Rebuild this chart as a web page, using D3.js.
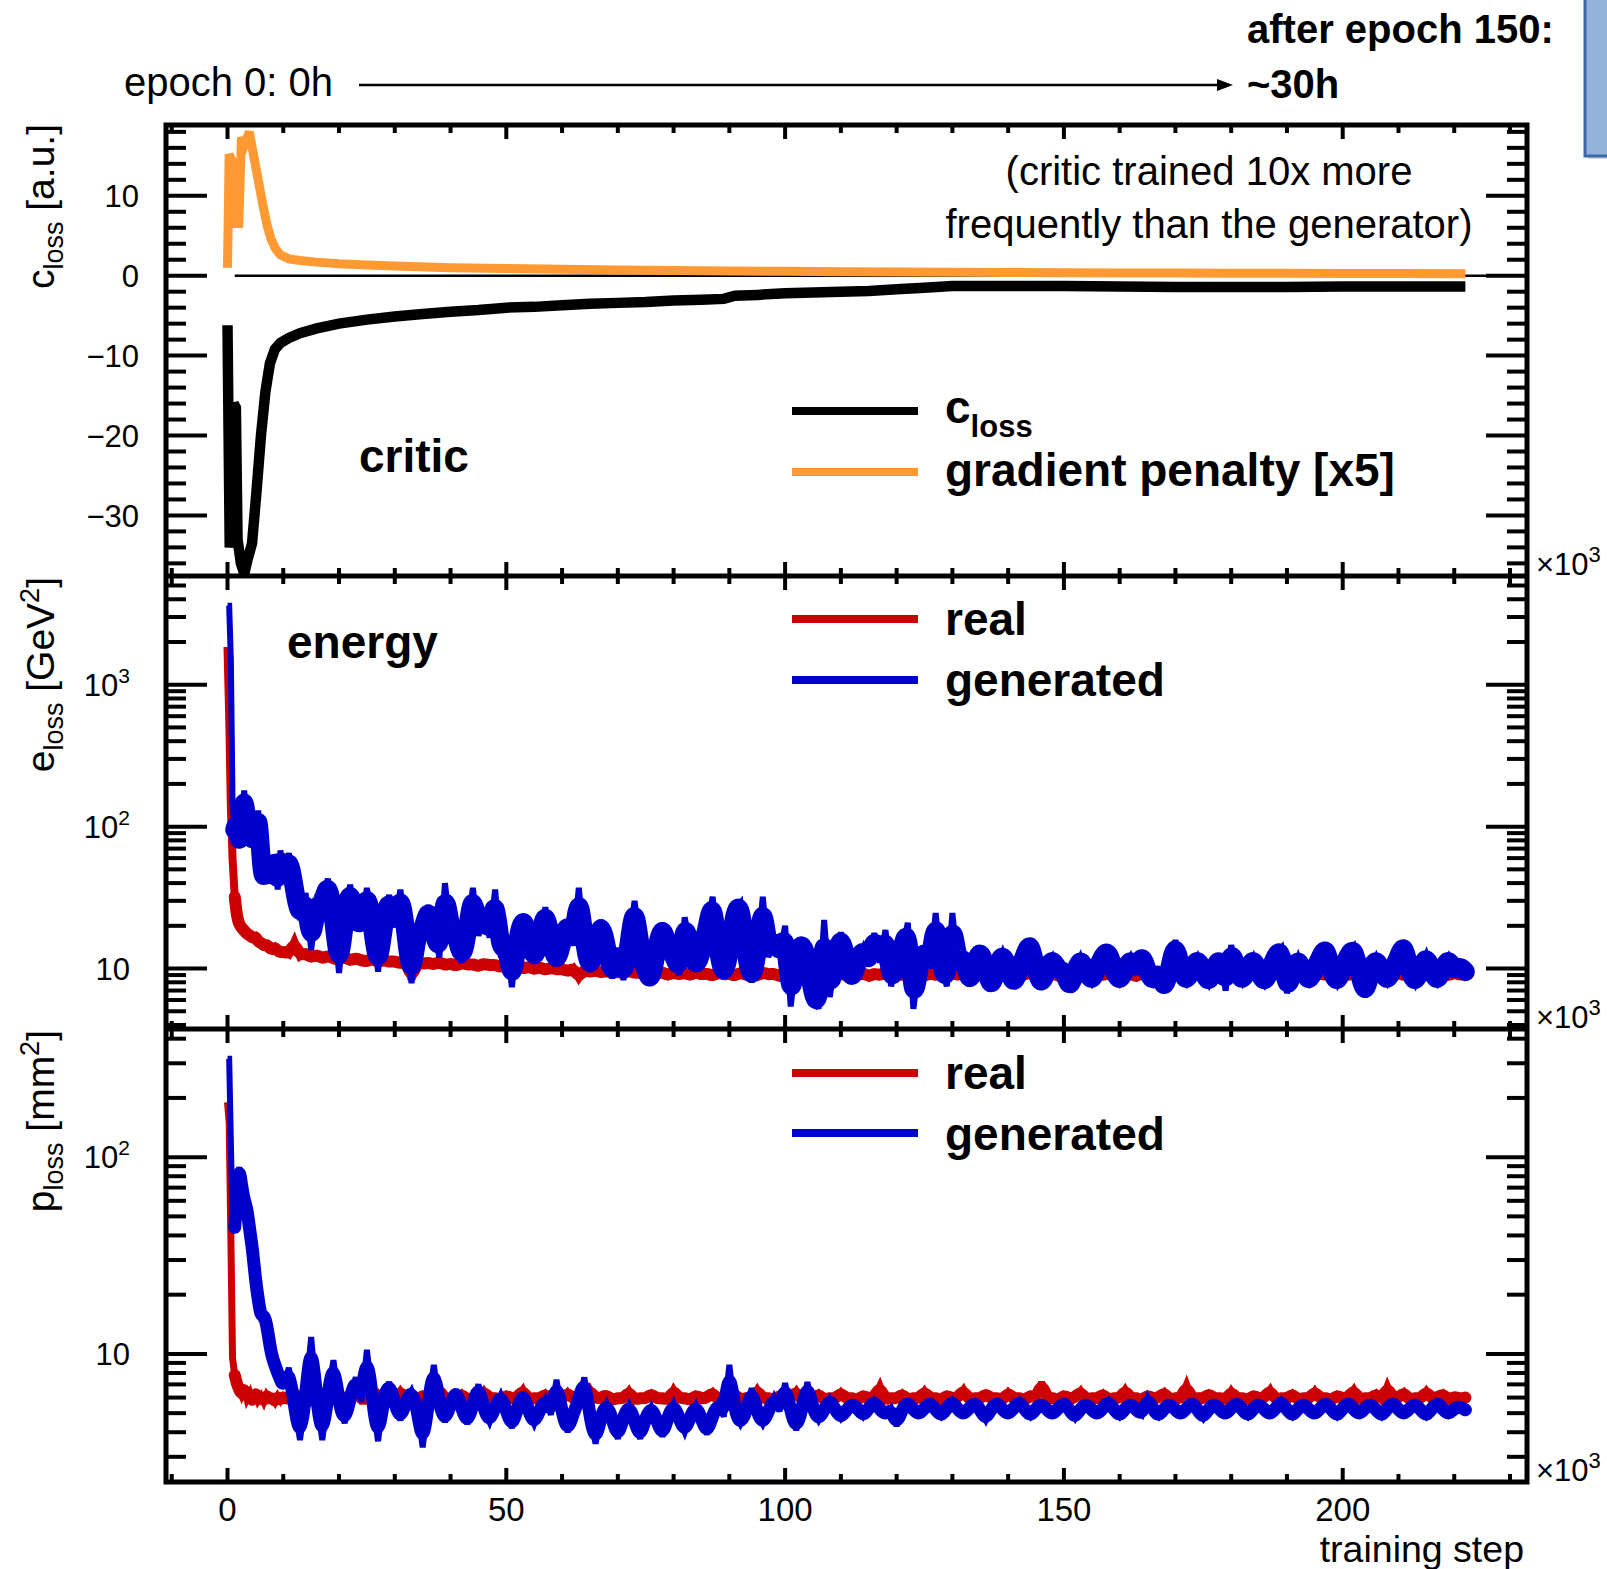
<!DOCTYPE html>
<html>
<head>
<meta charset="utf-8">
<script src="https://cdn.jsdelivr.net/npm/d3@7"></script>
<style>
  body { margin: 0; background: #fff; }
</style>
</head>
<body>
<script>
// ---- data (training step in units of 10^3) ----
const critSteps = [0, 0.4, 0.8, 1.1, 1.5, 1.8, 2.4, 3.0, 3.6, 4.4,
  5.2, 6.0, 6.8, 7.6, 8.5, 9.5, 11, 13, 16, 20,
  25, 30, 35, 40, 45, 50, 55, 60, 65, 70,
  75, 80, 85, 89, 91, 95, 100, 105, 110, 115,
  120, 125, 130, 140, 150, 160, 170, 180, 190, 200,
  210, 222];
const critLoss = [-6.2, -34, -31, -16, -16.5, -33, -36, -37.3, -35.5, -33.5,
  -27, -20, -14.5, -11, -9.2, -8.4, -7.8, -7.2, -6.6, -6.0,
  -5.5, -5.1, -4.8, -4.5, -4.3, -4.0, -3.9, -3.7, -3.5, -3.4,
  -3.3, -3.1, -3.0, -2.9, -2.5, -2.4, -2.2, -2.1, -2.0, -1.9,
  -1.7, -1.5, -1.3, -1.3, -1.3, -1.35, -1.4, -1.4, -1.4, -1.35,
  -1.35, -1.35];

const gpSteps = [0, 0.3, 0.9, 1.2, 1.6, 2.0, 2.5, 3.1, 3.9, 4.7,
  5.5, 6.3, 7.1, 7.8, 8.6, 9.5, 11, 13, 16, 20,
  25, 30, 40, 50, 60, 70, 80, 90, 100, 110,
  120, 130, 140, 150, 160, 170, 180, 190, 200, 210,
  222];
const gradPenalty = [1.0, 15.2, 14.2, 6.0, 11.5, 6.0, 17.3, 16.5, 18.0, 15.0,
  12.0, 9.0, 6.3, 4.6, 3.4, 2.6, 2.1, 1.9, 1.7, 1.5,
  1.35, 1.2, 1.0, 0.9, 0.8, 0.72, 0.66, 0.6, 0.55, 0.5,
  0.46, 0.43, 0.4, 0.37, 0.35, 0.33, 0.31, 0.3, 0.28, 0.27,
  0.26];

const noisySteps = [0, 0.3, 0.6, 0.9, 1.3, 1.7, 2.1, 2.5, 3, 3.5, 4, 4.5, 5, 5.5, 6, 6.5, 7, 7.5, 8, 8.5, 9, 9.5,
  10, 11, 12, 13, 14, 15, 16, 17, 18, 19,
  20, 21, 22, 23, 24, 25, 26, 27, 28, 29,
  30, 31, 32, 33, 34, 35, 36, 37, 38, 39,
  40, 41, 42, 43, 44, 45, 46, 47, 48, 49,
  50, 51, 52, 53, 54, 55, 56, 57, 58, 59,
  60, 61, 62, 63, 64, 65, 66, 67, 68, 69,
  70, 71, 72, 73, 74, 75, 76, 77, 78, 79,
  80, 81, 82, 83, 84, 85, 86, 87, 88, 89,
  90, 91, 92, 93, 94, 95, 96, 97, 98, 99,
  100, 101, 102, 103, 104, 105, 106, 107, 108, 109,
  110, 111, 112, 113, 114, 115, 116, 117, 118, 119,
  120, 121, 122, 123, 124, 125, 126, 127, 128, 129,
  130, 131, 132, 133, 134, 135, 136, 137, 138, 139,
  140, 141, 142, 143, 144, 145, 146, 147, 148, 149,
  150, 151, 152, 153, 154, 155, 156, 157, 158, 159,
  160, 161, 162, 163, 164, 165, 166, 167, 168, 169,
  170, 171, 172, 173, 174, 175, 176, 177, 178, 179,
  180, 181, 182, 183, 184, 185, 186, 187, 188, 189,
  190, 191, 192, 193, 194, 195, 196, 197, 198, 199,
  200, 201, 202, 203, 204, 205, 206, 207, 208, 209,
  210, 211, 212, 213, 214, 215, 216, 217, 218, 219,
  220, 221, 222];

const energyReal = [1850, 600, 140, 60, 32, 23, 20.5, 19.5, 18.5, 17.5, 17.2, 16.4, 16.8, 15.5, 15.2, 14.5, 14.8, 14.0, 13.6, 14.1, 13.3, 13.0,
  13.2, 12.6, 15.5, 12.2, 12.9, 11.9, 12.6, 11.7, 12.4, 11.8,
  11.5, 12.2, 11.3, 11.9, 11.4, 11.2, 11.8, 11.0, 11.6, 11.1,
  11.3, 10.8, 11.5, 8.4, 11.2, 10.7, 11.1, 10.6, 11.2, 10.5,
  10.9, 10.4, 11.0, 10.6, 10.8, 10.3, 10.9, 10.5, 10.7, 10.2,
  10.6, 10.1, 10.5, 9.9, 10.4, 9.8, 10.3, 9.7, 10.2, 9.8,
  10.0, 9.5, 10.1, 8.6, 9.9, 9.4, 9.8, 9.3, 9.7, 9.2,
  9.6, 9.1, 9.8, 9.2, 9.5, 9.0, 9.6, 9.1, 9.5, 8.9,
  9.5, 9.0, 9.4, 8.9, 9.6, 9.0, 9.3, 8.8, 9.5, 9.0,
  9.3, 8.8, 9.5, 8.9, 9.4, 8.8, 9.5, 9.0, 9.3, 8.7,
  9.4, 8.9, 9.5, 8.8, 9.3, 8.9, 9.6, 8.7, 9.4, 8.9,
  9.3, 8.8, 9.5, 8.9, 9.4, 8.7, 9.3, 8.9, 9.5, 8.8,
  9.4, 8.9, 9.3, 8.8, 9.5, 8.7, 9.4, 8.9, 9.3, 8.8,
  9.4, 8.9, 9.5, 8.8, 9.3, 8.9, 9.4, 8.7, 9.5, 8.9,
  9.3, 8.8, 9.4, 8.9, 9.6, 8.8, 9.3, 8.9, 9.4, 8.7,
  9.3, 8.9, 9.5, 8.8, 9.4, 8.6, 9.3, 8.9, 9.4, 8.8,
  9.5, 8.9, 9.3, 8.7, 9.4, 8.9, 9.3, 8.8, 9.5, 8.9,
  9.4, 8.8, 9.3, 8.9, 9.5, 8.7, 9.4, 8.9, 9.3, 8.8,
  9.4, 8.9, 9.5, 8.8, 9.3, 8.9, 9.4, 8.7, 9.3, 8.9,
  9.5, 8.8, 9.4, 8.9, 9.3, 8.7, 9.4, 8.9, 9.5, 8.8,
  9.3, 8.9, 9.4, 8.8, 9.5, 8.2, 9.3, 8.9, 9.4, 8.8,
  9.4, 8.9, 9.3, 8.8, 9.5, 8.9, 9.4, 8.7, 9.3, 8.9,
  9.4, 9.0, 9.2];

const energyGen = [3600, 3600, 1500, 150, 95, 110, 72, 100, 180, 94, 88, 80, 85, 130, 58, 40, 58, 52, 48, 62, 36, 68,
  42, 65, 36, 22, 34, 13.5, 30, 27, 43, 24,
  9.3, 23, 39, 21, 20, 37, 20, 9.5, 21, 33,
  19.5, 36, 18, 7.9, 19, 17.5, 28, 18.5, 12, 40,
  17.5, 18.5, 11, 17.5, 37, 17, 25, 16.5, 36, 12,
  16.5, 7.4, 16, 24, 16.5, 11, 16, 27, 15.5, 10.5,
  15.5, 22, 14.5, 37, 15, 9.5, 14.5, 22, 14, 8.5,
  14, 8.3, 14.5, 30, 13.5, 9.5, 7.9, 14, 21, 13.5,
  13, 9, 23, 13.5, 10, 13, 19, 32, 13, 8.5,
  13, 26, 29, 12.5, 8, 12.5, 32, 12, 17, 12,
  20, 5.4, 12, 16, 11.5, 6.5, 5.2, 22, 6.3, 11.5,
  18, 11, 8, 11.5, 14, 10.5, 17.8, 11, 18.7, 7.5,
  11, 13.5, 21, 5.2, 10.5, 14, 10, 24.6, 10.5, 7.5,
  24.6, 10, 13, 7.5, 10.5, 14, 10, 7, 10.5, 13,
  10, 7.5, 10, 12.5, 15.9, 9.5, 7.5, 10, 12, 9.5,
  10, 7, 9.5, 12, 9.5, 8, 10, 12.5, 13.5, 9.5,
  8, 9.8, 12, 9.5, 13.1, 9.3, 8, 9.8, 6.8, 10,
  15.9, 9.5, 8, 10, 12, 9.4, 7.8, 10, 12.5, 7,
  14.6, 9.5, 8, 10, 12, 9.3, 7.8, 9.8, 12.5, 13.9,
  6.7, 9.6, 12, 9.3, 8, 10, 12, 14.6, 9.4, 7.8,
  10, 12.5, 14.2, 9.4, 6.3, 9.8, 12, 9.5, 8, 10,
  12, 15.4, 9.4, 7.8, 10, 12.5, 9.5, 8, 10, 12,
  9.5, 10.5, 9.5];

const posReal = [190, 150, 40, 9.5, 7.8, 7.0, 6.6, 6.2, 6.8, 5.9, 6.3, 5.6, 6.5, 5.8, 6.1, 5.7, 6.2, 5.9, 6.0, 5.7, 6.1, 5.8,
  6.1, 5.8, 6.4, 5.9, 6.0, 5.7, 6.5, 5.9, 6.0, 5.8,
  6.2, 5.9, 6.0, 6.6, 5.8, 6.0, 5.9, 6.3, 5.8, 6.0,
  5.9, 6.5, 5.9, 6.0, 5.8, 6.2, 5.9, 6.0, 6.7, 5.8,
  6.0, 5.9, 6.3, 5.8, 6.0, 5.9, 6.5, 5.9, 6.0, 5.8,
  6.2, 5.9, 6.0, 6.6, 5.8, 6.0, 5.9, 6.3, 5.8, 6.0,
  5.9, 6.4, 5.9, 6.0, 5.8, 6.6, 5.9, 6.0, 6.2, 5.8,
  6.0, 5.9, 6.5, 5.8, 6.0, 5.9, 6.3, 5.9, 6.0, 5.8,
  6.6, 5.9, 6.0, 5.8, 6.2, 5.9, 6.0, 6.4, 5.8, 6.0,
  5.9, 6.3, 5.8, 6.0, 5.9, 6.6, 5.9, 6.0, 5.8, 6.2,
  5.9, 6.0, 6.5, 5.8, 6.0, 5.9, 6.3, 5.8, 6.0, 5.9,
  6.4, 5.9, 6.0, 5.8, 6.2, 5.9, 6.0, 6.9, 5.8, 6.0,
  5.9, 6.3, 5.8, 6.0, 5.9, 6.5, 5.9, 6.0, 5.8, 6.2,
  5.9, 6.0, 6.6, 5.8, 6.0, 5.9, 6.3, 5.9, 6.0, 5.8,
  6.4, 5.9, 6.0, 5.8, 6.2, 5.9, 7.2, 5.9, 6.0, 5.8,
  6.2, 5.9, 6.0, 6.5, 5.8, 6.0, 5.9, 6.3, 5.8, 6.0,
  5.9, 6.6, 5.9, 6.0, 5.8, 6.2, 5.9, 6.0, 6.4, 5.8,
  6.0, 5.9, 7.0, 5.8, 6.0, 5.9, 6.3, 5.9, 6.0, 5.8,
  6.5, 5.9, 6.0, 5.8, 6.2, 5.9, 6.0, 6.6, 5.8, 6.0,
  5.9, 6.3, 5.8, 6.0, 5.9, 6.5, 5.9, 6.0, 5.8, 6.2,
  5.9, 6.0, 6.6, 5.8, 6.0, 5.9, 6.3, 5.8, 6.9, 5.9,
  6.0, 6.4, 5.8, 6.0, 5.9, 6.5, 5.9, 6.0, 6.3, 5.8,
  6.1, 5.9, 6.0];

const posGen = [316, 316, 120, 47, 44, 70, 89, 72, 60, 55, 42, 34, 24, 19, 15.4, 15.8, 14.3, 11.5, 9.6, 8.8, 8.0, 7.4,
  6.8, 8.5, 5.5, 3.65, 6.0, 12.2, 5.8, 3.65, 6.2, 9.3,
  5.6, 4.45, 6.0, 7.6, 5.7, 10.5, 5.8, 3.6, 6.0, 7.2,
  5.6, 4.6, 5.8, 6.5, 5.4, 3.35, 5.6, 8.8, 5.5, 4.5,
  5.6, 6.6, 5.3, 4.4, 5.5, 7.0, 5.2, 4.5, 5.4, 6.2,
  5.2, 4.2, 5.3, 6.4, 5.1, 4.4, 5.2, 5.9, 4.9, 7.4,
  5.0, 4.0, 5.0, 5.8, 7.6, 4.8, 3.5, 4.9, 5.6, 4.7,
  3.7, 4.8, 5.5, 4.6, 3.7, 4.8, 5.4, 4.6, 3.8, 4.8,
  5.6, 4.7, 4.0, 4.8, 5.5, 4.7, 3.9, 4.9, 5.6, 4.8,
  8.8, 5.0, 4.4, 5.0, 6.7, 5.0, 4.4, 5.1, 6.0, 5.1,
  7.1, 5.1, 4.1, 5.2, 7.2, 5.2, 4.6, 5.2, 5.9, 5.2,
  4.7, 5.2, 5.6, 5.3, 4.8, 5.3, 5.8, 5.2, 4.9, 5.3,
  4.3, 5.3, 5.7, 5.2, 4.9, 5.3, 5.7, 5.2, 4.8, 5.3,
  5.8, 5.2, 4.9, 5.3, 5.7, 5.2, 4.6, 5.3, 5.7, 5.2,
  4.9, 5.3, 5.8, 5.2, 4.8, 5.3, 5.6, 5.2, 4.9, 5.3,
  5.7, 5.2, 4.7, 5.3, 5.6, 5.2, 4.9, 5.3, 5.8, 5.2,
  4.8, 5.3, 5.6, 5.2, 4.9, 6.0, 5.2, 4.8, 5.3, 5.6,
  5.2, 4.9, 5.3, 5.7, 5.2, 4.7, 5.3, 5.6, 5.2, 4.9,
  5.3, 5.7, 5.2, 4.8, 5.3, 5.6, 5.2, 4.9, 5.3, 5.8,
  5.2, 4.8, 5.3, 5.6, 5.2, 4.9, 5.3, 5.7, 5.2, 4.8,
  5.3, 5.7, 5.2, 4.9, 5.3, 5.6, 5.2, 4.8, 5.3, 5.7,
  5.2, 4.9, 5.3, 5.6, 5.2, 4.8, 5.3, 5.7, 5.2, 4.9,
  5.3, 5.4, 5.2];

const xTicks = [0, 50, 100, 150, 200];
const critTicks = [-30, -20, -10, 0, 10];
const energyTicks = [10, 100, 1000];
const posTicks = [10, 100];

// ---- layout ----
const svgWid = 1607;
const svgHt = 1569;
const font = '"Liberation Sans", Arial, Helvetica, sans-serif';
const svg = d3.select('body').append('svg')
  .attr('width', svgWid).attr('height', svgHt)
  .style('font-family', font);

const frameL = 166, frameR = 1527;
const panels = [
  {top: 125, bottom: 576},
  {top: 576, bottom: 1029},
  {top: 1029, bottom: 1482}
];

const xScale = d3.scaleLinear().domain([-11.03, 233.05]).range([frameL, frameR]);
const yCrit = d3.scaleLinear().domain([-37.58, 18.86]).range([576, 125]);
const yEnergy = d3.scaleLog().domain([3.75, 5834]).range([1029, 576]);
const yPos = d3.scaleLog().domain([2.234, 448]).range([1482, 1029]);

const red = '#cc0000', blue = '#0000cc', orange = '#ff9933';

// clip paths
const defs = svg.append('defs');
panels.forEach((p, i) => {
  defs.append('clipPath').attr('id', 'clip' + i)
    .append('rect').attr('x', frameL).attr('y', p.top)
    .attr('width', frameR - frameL).attr('height', p.bottom - p.top);
});

// ---- ticks ----
const tickG = svg.append('g').attr('stroke', '#000').attr('stroke-width', 4);

function yTicks(scale, majors, minors) {
  minors.forEach(v => {
    const y = scale(v);
    tickG.append('line').attr('x1', frameL).attr('x2', frameL + 20).attr('y1', y).attr('y2', y);
    tickG.append('line').attr('x1', frameR - 20).attr('x2', frameR).attr('y1', y).attr('y2', y);
  });
  majors.forEach(v => {
    const y = scale(v);
    tickG.append('line').attr('x1', frameL).attr('x2', frameL + 41).attr('y1', y).attr('y2', y);
    tickG.append('line').attr('x1', frameR - 41).attr('x2', frameR).attr('y1', y).attr('y2', y);
  });
}

const critMinor = d3.range(-36, 19, 2).filter(v => v % 10 !== 0);
yTicks(yCrit, critTicks, critMinor);
const eMinor = yEnergy.ticks().filter(v => !energyTicks.includes(v));
yTicks(yEnergy, energyTicks, eMinor);
const pMinor = yPos.ticks().filter(v => !posTicks.includes(v));
yTicks(yPos, posTicks, pMinor);

const xMinor = d3.range(-10, 231, 10).filter(v => !xTicks.includes(v));
panels.forEach(p => {
  xMinor.forEach(v => {
    const x = xScale(v);
    tickG.append('line').attr('x1', x).attr('x2', x).attr('y1', p.top).attr('y2', p.top + 8);
    tickG.append('line').attr('x1', x).attr('x2', x).attr('y1', p.bottom - 8).attr('y2', p.bottom);
  });
  xTicks.forEach(v => {
    const x = xScale(v);
    tickG.append('line').attr('x1', x).attr('x2', x).attr('y1', p.top).attr('y2', p.top + 14);
    tickG.append('line').attr('x1', x).attr('x2', x).attr('y1', p.bottom - 14).attr('y2', p.bottom);
  });
});

// ---- series ----
// thin polyline for the raw values; for the noisy losses a smoothed, wider
// stroke of the same points is laid underneath to give the dense band look
function drawSeries(steps, values, yScale, color, width, clip, coreWidth) {
  const pts = d3.zip(steps, values);
  if (coreWidth) {
    const core = d3.line().curve(d3.curveBasis)
      .x(d => xScale(d[0])).y(d => yScale(d[1]));
    svg.append('path')
      .attr('d', core(pts.filter(d => d[0] >= 1.3)))
      .attr('fill', 'none')
      .attr('stroke', color)
      .attr('stroke-width', coreWidth)
      .attr('stroke-linecap', 'round')
      .attr('clip-path', `url(#${clip})`);
  }
  const line = d3.line().x(d => xScale(d[0])).y(d => yScale(d[1]));
  svg.append('path')
    .attr('d', line(pts))
    .attr('fill', 'none')
    .attr('stroke', color)
    .attr('stroke-width', width)
    .attr('stroke-linejoin', 'miter')
    .attr('stroke-miterlimit', 3)
    .attr('clip-path', `url(#${clip})`);
}

// zero line of the critic panel
svg.append('line')
  .attr('x1', xScale(1.3)).attr('x2', frameR)
  .attr('y1', yCrit(0)).attr('y2', yCrit(0))
  .attr('stroke', '#000').attr('stroke-width', 2.5);

drawSeries(gpSteps, gradPenalty, yCrit, orange, 9, 'clip0');
drawSeries(critSteps, critLoss, yCrit, '#000', 10.5, 'clip0');
drawSeries(noisySteps, energyReal, yEnergy, red, 8, 'clip1', 12);
drawSeries(noisySteps, energyGen, yEnergy, blue, 6, 'clip1', 19);
drawSeries(noisySteps, posReal, yPos, red, 7, 'clip2', 12);
drawSeries(noisySteps, posGen, yPos, blue, 6, 'clip2', 13);

// ---- frame ----
svg.append('rect')
  .attr('x', frameL).attr('y', panels[0].top)
  .attr('width', frameR - frameL).attr('height', panels[2].bottom - panels[0].top)
  .attr('fill', 'none').attr('stroke', '#000').attr('stroke-width', 5);
[576, 1029].forEach(y => {
  svg.append('line').attr('x1', frameL).attr('x2', frameR).attr('y1', y).attr('y2', y)
    .attr('stroke', '#000').attr('stroke-width', 5);
});

// ---- tick labels ----
const labelFs = 31;
critTicks.forEach(v => {
  svg.append('text').attr('x', 139).attr('y', yCrit(v) + labelFs * 0.36)
    .attr('text-anchor', 'end').attr('font-size', labelFs)
    .text(v < 0 ? '\u2212' + Math.abs(v) : String(v));
});

function logLabel(scale, v) {
  const exp = Math.round(Math.log10(v));
  const t = svg.append('text').attr('x', 130).attr('y', scale(v) + labelFs * 0.36)
    .attr('text-anchor', 'end').attr('font-size', labelFs).text('10');
  if (exp > 1) {
    t.append('tspan').attr('font-size', 21).attr('dy', -13).text(exp);
  }
}
energyTicks.forEach(v => logLabel(yEnergy, v));
posTicks.forEach(v => logLabel(yPos, v));

xTicks.forEach(v => {
  svg.append('text').attr('x', xScale(v)).attr('y', 1520.5)
    .attr('text-anchor', 'middle').attr('font-size', 33).text(v);
});

svg.append('text').attr('x', 1524).attr('y', 1562)
  .attr('text-anchor', 'end').attr('font-size', 37.5).text('training step');

// x10^3 markers
panels.forEach(p => {
  const t = svg.append('text').attr('x', 1536).attr('y', p.bottom - 1).attr('font-size', 31).text('\u00d710');
  t.append('tspan').attr('font-size', 22).attr('dy', -13).text('3');
});

// ---- y titles ----
function yTitle(top, main, sub, rest, sup, tail) {
  const t = svg.append('text')
    .attr('transform', `translate(54,${top}) rotate(-90)`)
    .attr('text-anchor', 'end').attr('font-size', 39);
  t.append('tspan').text(main);
  t.append('tspan').attr('font-size', 27).attr('dy', 9).text(sub);
  t.append('tspan').attr('dy', -9).text(rest);
  if (sup) {
    t.append('tspan').attr('font-size', 27).attr('dy', -15).text(sup);
    t.append('tspan').attr('dy', 15).text(tail);
  }
}
yTitle(124, 'c', 'loss', ' [a.u.]');
yTitle(577, 'e', 'loss', ' [GeV', '2', ']');
yTitle(1030, 'p', 'loss', ' [mm', '2', ']');

// ---- legends and labels ----
const boldFs = 46;
function legendLine(y, color) {
  svg.append('line').attr('x1', 792).attr('x2', 918).attr('y1', y).attr('y2', y)
    .attr('stroke', color).attr('stroke-width', 8);
}
function boldText(x, y, txt) {
  return svg.append('text').attr('x', x).attr('y', y)
    .attr('font-size', boldFs).attr('font-weight', 'bold').text(txt);
}

legendLine(411, '#000');
const cl = boldText(945, 423, 'c');
cl.append('tspan').attr('font-size', 31).attr('dy', 14).text('loss');
legendLine(472, orange);
boldText(945, 486, 'gradient penalty [x5]');
boldText(359, 472, 'critic');

boldText(287, 658, 'energy');
legendLine(619, red);
boldText(945, 635, 'real');
legendLine(680, blue);
boldText(945, 696, 'generated');

legendLine(1073, red);
boldText(945, 1089, 'real');
legendLine(1133, blue);
boldText(945, 1150, 'generated');

// note in the critic panel
svg.append('text').attr('x', 1209).attr('y', 185).attr('text-anchor', 'middle')
  .attr('font-size', 40).text('(critic trained 10x more');
svg.append('text').attr('x', 1209).attr('y', 238).attr('text-anchor', 'middle')
  .attr('font-size', 40).text('frequently than the generator)');

// ---- epoch annotation ----
svg.append('text').attr('x', 124).attr('y', 96).attr('font-size', 40).text('epoch 0: 0h');
svg.append('line').attr('x1', 359).attr('x2', 1220).attr('y1', 85).attr('y2', 85)
  .attr('stroke', '#000').attr('stroke-width', 2.5);
svg.append('path').attr('d', 'M1233,85 L1217,79 L1217,91 Z').attr('fill', '#000');
svg.append('text').attr('x', 1247).attr('y', 43).attr('font-size', 40)
  .attr('font-weight', 'bold').text('after epoch 150:');
svg.append('text').attr('x', 1247).attr('y', 98).attr('font-size', 40)
  .attr('font-weight', 'bold').text('~30h');

// partial box at the top-right corner
svg.append('rect').attr('x', 1588).attr('y', -10).attr('width', 40).attr('height', 169)
  .attr('fill', '#aaa').attr('opacity', 0.5);
svg.append('rect').attr('x', 1585).attr('y', -10).attr('width', 40).attr('height', 166)
  .attr('fill', '#93b3db').attr('stroke', '#3d68a8').attr('stroke-width', 3);
</script>
</body>
</html>
